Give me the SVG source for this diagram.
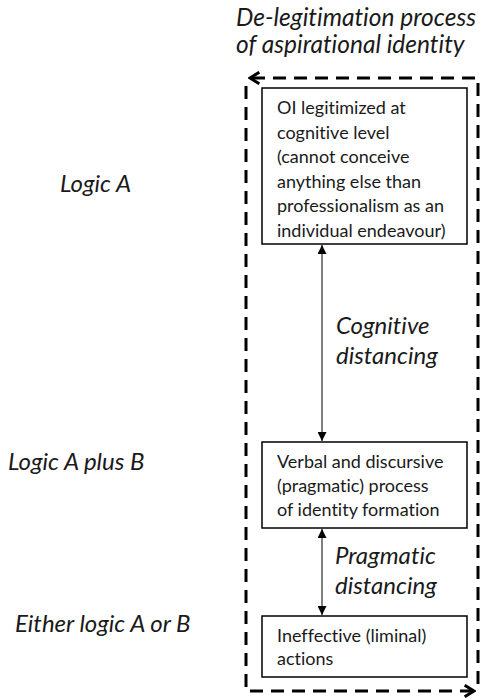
<svg xmlns="http://www.w3.org/2000/svg" width="483" height="700" viewBox="0 0 483 700">
<style>
text{font-family:Lato,"Liberation Sans",sans-serif;fill:#1a1a1a;font-variant-ligatures:none;font-feature-settings:"liga" 0}
.it{font-style:italic}
.lbl{font-size:24px}
.ttl{font-size:24.5px}
.box{font-size:18px}
.node rect{fill:#fff;stroke:#000;stroke-width:1.5}
.conn{stroke:#000;stroke-width:1;fill:none}
.dash{stroke:#000;stroke-width:3;fill:none;stroke-dasharray:13 8}
</style>
<defs>
<marker id="tri" viewBox="0 0 10 10" refX="10" refY="5" markerWidth="9" markerHeight="9" markerUnits="userSpaceOnUse" orient="auto-start-reverse">
<path d="M0,0 L10,5 L0,10 z" fill="#000"/>
</marker>
<marker id="chev" viewBox="0 0 12 12" refX="10" refY="6" markerWidth="14" markerHeight="14" markerUnits="userSpaceOnUse" orient="auto">
<path d="M2,1 L10,6 L2,11" fill="none" stroke="#000" stroke-width="2.5"/>
</marker>
</defs>
<g id="title">
<text class="it ttl" x="236" y="26">De-legitimation process</text>
<text class="it ttl" x="236" y="53">of aspirational identity</text>
</g>
<g id="labels">
<text class="it lbl" x="60" y="192">Logic A</text>
<text class="it lbl" x="8" y="470">Logic A plus B</text>
<text class="it lbl" x="15" y="632">Either logic A or B</text>
</g>
<g id="connectors">
<path class="dash" d="M478,684 L478,78 L250,78" marker-end="url(#chev)"/>
<path class="dash" d="M246,86 L246,691 L474,691" marker-end="url(#chev)"/>
<line class="conn" x1="322" y1="245" x2="322" y2="441" marker-start="url(#tri)" marker-end="url(#tri)"/>
<line class="conn" x1="322" y1="529" x2="322" y2="615" marker-start="url(#tri)" marker-end="url(#tri)"/>
<text class="it lbl" x="336" y="334">Cognitive</text>
<text class="it lbl" x="336" y="364">distancing</text>
<text class="it lbl" x="335" y="564">Pragmatic</text>
<text class="it lbl" x="335" y="594">distancing</text>
</g>
<g id="node1" class="node">
<rect x="262" y="88" width="205" height="156"/>
<text class="box" x="277" y="114">OI legitimized at</text>
<text class="box" x="277" y="139">cognitive level</text>
<text class="box" x="277" y="163">(cannot conceive</text>
<text class="box" x="277" y="188">anything else than</text>
<text class="box" x="277" y="212">professionalism as an</text>
<text class="box" x="277" y="237">individual endeavour)</text>
</g>
<g id="node2" class="node">
<rect x="262" y="442" width="205" height="86"/>
<text class="box" x="277" y="468">Verbal and discursive</text>
<text class="box" x="277" y="492">(pragmatic) process</text>
<text class="box" x="277" y="516">of identity formation</text>
</g>
<g id="node3" class="node">
<rect x="262" y="616" width="205" height="61"/>
<text class="box" x="277" y="642">Ineffective (liminal)</text>
<text class="box" x="277" y="665">actions</text>
</g>
</svg>
